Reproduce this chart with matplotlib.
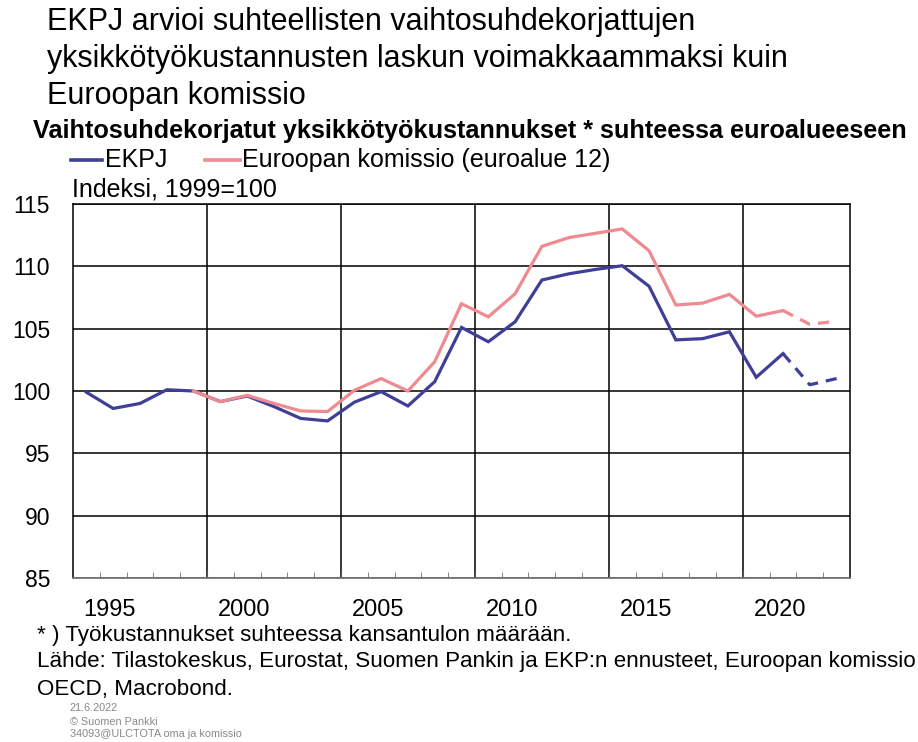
import matplotlib
matplotlib.use("Agg")
import matplotlib.pyplot as plt
import matplotlib.transforms as mtransforms

plt.rcParams['font.family'] = ['Liberation Sans', 'DejaVu Sans']

years = list(range(1995, 2024))
ekpj = [99.9, 98.6, 99.0, 100.1, 100.0, 99.15, 99.6, 98.75, 97.8, 97.6,
        99.1, 99.95, 98.8, 100.75, 105.1, 103.95, 105.55, 108.9, 109.4, 109.75,
        110.05, 108.4, 104.1, 104.2, 104.75, 101.1, 103.0, 100.5, 101.0]
ek_years = list(range(1999, 2024))
ek = [100.0, 99.15, 99.65, 99.0, 98.4, 98.35, 100.05, 101.0, 100.0, 102.35,
      107.0, 105.95, 107.8, 111.6, 112.3, 112.65, 113.0, 111.25, 106.9, 107.05,
      107.75, 106.0, 106.45, 105.35, 105.6]
last_actual = 2021
yticks = [85, 90, 95, 100, 105, 110, 115]
xlabels = [1995, 2000, 2005, 2010, 2015, 2020]

blue = '#3E3F98'
pink = '#EE8A90'

fig = plt.figure(figsize=(9.18, 7.42), dpi=100)
ax = fig.add_axes([73/918, 1-578/742, (850-73)/918, (578-204)/742])

def split(xs, ys):
    i = xs.index(last_actual)
    return xs[:i+1], ys[:i+1], xs[i:], ys[i:]

bx1, by1, bx2, by2 = split(years, ekpj)
px1, py1, px2, py2 = split(ek_years, ek)
lw = 2.3
ax.plot(bx1, by1, color=blue, lw=lw, solid_joinstyle='miter', zorder=3)
ax.plot(bx2, by2, color=blue, lw=lw, ls=(0, (3.5, 2.5)), zorder=3)
ax.plot(px1, py1, color=pink, lw=lw, solid_joinstyle='miter', zorder=4)
ax.plot(px2, py2, color=pink, lw=lw, ls=(0, (3.5, 2.5)), zorder=4)

ax.set_xlim(years[0]-0.5, years[-1]+0.5)
ax.set_ylim(85, 115)
ax.set_yticks(yticks)
ax.set_yticklabels([str(v) for v in yticks], fontsize=16.5)
ax.tick_params(axis='y', length=0, pad=16.5)
ax.yaxis.grid(True, color='black', lw=1.1)

grid_x = [y - 0.5 for y in xlabels[1:]]
ax.set_xticks(grid_x)
ax.set_xticklabels([])
ax.tick_params(axis='x', which='major', length=6, direction='in', color='#555555')
ax.xaxis.grid(True, color='black', lw=1.1)
ax.set_xticks([y - 0.5 for y in years[1:]], minor=True)
ax.tick_params(axis='x', which='minor', length=4, direction='in', color='#777777')

trans = mtransforms.blended_transform_factory(ax.transData, fig.transFigure)
for y in xlabels:
    ax.text(y + 0.88, 1-610/742, str(y), transform=trans, ha='center', va='center', fontsize=17)

for s in ['left', 'top', 'right']:
    ax.spines[s].set_color('black')
    ax.spines[s].set_linewidth(1.1)
ax.spines['bottom'].set_color('#777777')
ax.spines['bottom'].set_linewidth(1.3)
ax.set_axisbelow(True)

# Titles
tfs = 22
fig.text(47/918, 1-22/742, 'EKPJ arvioi suhteellisten vaihtosuhdekorjattujen', fontsize=tfs, va='center')
fig.text(47/918, 1-59/742, 'yksikkötyökustannusten laskun voimakkaammaksi kuin', fontsize=tfs, va='center')
fig.text(47/918, 1-96/742, 'Euroopan komissio', fontsize=tfs, va='center')
fig.text(33/918, 1-131/742, 'Vaihtosuhdekorjatut yksikkötyökustannukset * suhteessa euroalueeseen',
         fontsize=18.2, fontweight='bold', va='center')

# Legend
lfs = 18
ly = 1-160/742
fig.add_artist(plt.Line2D([71/918, 102/918], [ly, ly], color=blue, lw=2.6))
fig.text(105/918, ly, 'EKPJ', fontsize=lfs, va='center')
fig.add_artist(plt.Line2D([205/918, 240/918], [ly, ly], color=pink, lw=2.6))
fig.text(242/918, ly, 'Euroopan komissio (euroalue 12)', fontsize=lfs, va='center')
fig.text(72/918, 1-190/742, 'Indeksi, 1999=100', fontsize=lfs, va='center')

# Footnotes
ffs = 16.1
fig.text(37/918, 1-636/742, '* ) Työkustannukset suhteessa kansantulon määrään.', fontsize=ffs, va='center')
fig.text(37/918, 1-662/742, 'Lähde: Tilastokeskus, Eurostat, Suomen Pankin ja EKP:n ennusteet, Euroopan komissio',
         fontsize=ffs, va='center')
fig.text(37/918, 1-689/742, 'OECD, Macrobond.', fontsize=ffs, va='center')
sfs = 7.8
fig.text(70/918, 1-708/742, '21.6.2022', fontsize=sfs, color='#888888', va='center')
fig.text(70/918, 1-722/742, '© Suomen Pankki', fontsize=sfs, color='#888888', va='center')
fig.text(70/918, 1-734/742, '34093@ULCTOTA oma ja komissio', fontsize=sfs, color='#888888', va='center')

fig.savefig('out.png', dpi=100, facecolor='white')
